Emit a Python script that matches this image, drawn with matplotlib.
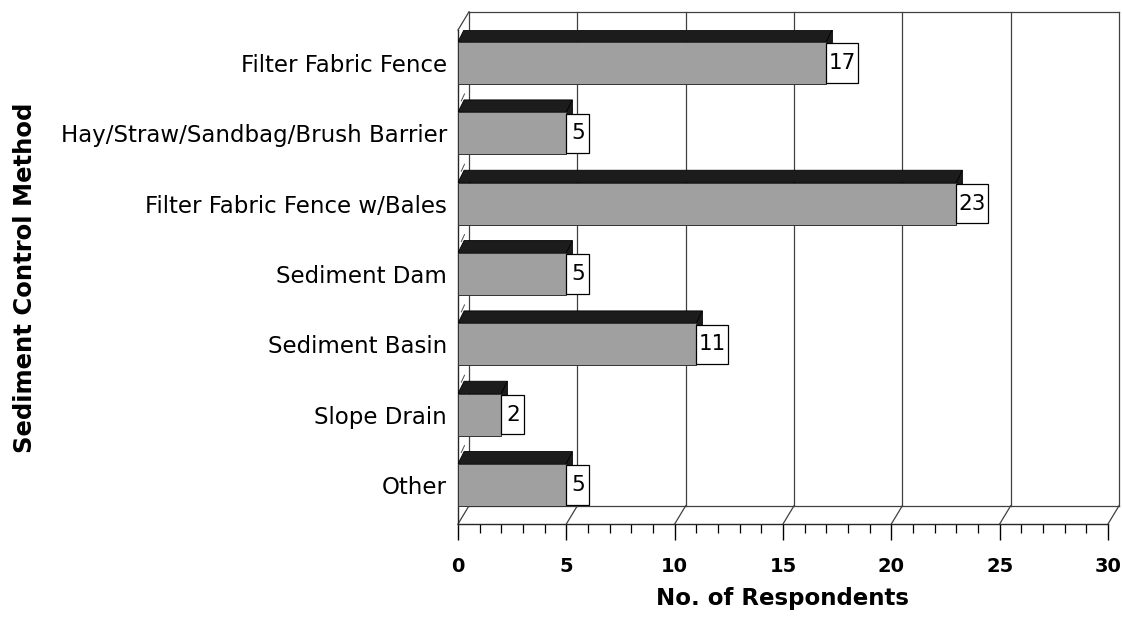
# 3-D style horizontal bar chart: sediment control methods by number of respondents
import numpy as np
import matplotlib as mpl; mpl.use('Agg')
import matplotlib.pyplot as plt
from matplotlib.patches import Polygon, Rectangle
from matplotlib.ticker import MultipleLocator

methods = ['Filter Fabric Fence', 'Hay/Straw/Sandbag/Brush Barrier', 'Filter Fabric Fence w/Bales',
           'Sediment Dam', 'Sediment Basin', 'Slope Drain', 'Other']
respondents = [17, 5, 23, 5, 11, 2, 5]
x_ticks = [0, 5, 10, 15, 20, 25, 30]

mpl.rcParams.update({'font.family': 'DejaVu Sans'})
FRONT = '#a0a0a0'; TOP = '#1c1c1c'

fig = plt.figure(figsize=(11.22, 6.19), dpi=100)
ax = fig.add_axes([458 / 1122, 95 / 619, 650 / 1122, 494 / 619])
YLO, YHI = 6.555, -0.469
ax.set_xlim(0, 30); ax.set_ylim(YLO, YHI)
ax.patch.set_visible(False)

# depth offsets (data units): walls and bars
WDX, WDY = 0.51, -0.26
BDX, BDY = 0.28, -0.175
BH = 0.6

# back wall: gridlines, top and bottom edges
for x in x_ticks:
    ax.plot([x + WDX, x + WDX], [YLO + WDY, YHI + WDY], color='0.25', lw=0.9, zorder=1, clip_on=False)
    ax.plot([x, x + WDX], [YLO, YLO + WDY], color='0.25', lw=0.9, zorder=1, clip_on=False)
ax.plot([WDX, 30 + WDX], [YHI + WDY, YHI + WDY], color='0.25', lw=0.9, zorder=1, clip_on=False)
ax.plot([WDX, 30 + WDX], [YLO + WDY, YLO + WDY], color='0.25', lw=0.9, zorder=1, clip_on=False)
ax.plot([0, WDX], [YHI, YHI + WDY], color='0.25', lw=0.9, zorder=1, clip_on=False)

# small category marks on the left wall
pos = np.arange(len(methods))
for b in pos[:-1] + 0.5:
    ax.plot([0.15, 0.3], [b + 0.04, b - 0.06], color='0.3', lw=0.7, zorder=1, clip_on=False)

# bars: front face, top face, side face, value box
for i, v in zip(pos, respondents):
    top = i - BH / 2
    ax.add_patch(Polygon([(0, top), (v, top), (v + BDX, top + BDY), (BDX, top + BDY)],
                         closed=True, fc=TOP, ec='k', lw=0.6, zorder=3))
    ax.add_patch(Polygon([(v, top), (v + BDX, top + BDY), (v + BDX, top + BH + BDY), (v, top + BH)],
                         closed=True, fc=TOP, ec='k', lw=0.6, zorder=3))
    ax.barh(i, v, height=BH, color=FRONT, edgecolor='0.2', lw=0.7, zorder=4)
    w = (14 + 9 * len(str(v))) / 21.67
    ax.add_patch(Rectangle((v, top + 0.02), w, BH - 0.04, fc='white', ec='k', lw=0.9, zorder=5))
    ax.text(v + w / 2, i, str(v), ha='center', va='center', fontsize=15.5, zorder=6)

# front axes: floor edge with ticks, left edge
for s in ['top', 'right']: ax.spines[s].set_visible(False)
for s in ['bottom', 'left']: ax.spines[s].set_linewidth(1.0); ax.spines[s].set_color('0.15')
ax.set_xticks(x_ticks)
ax.xaxis.set_minor_locator(MultipleLocator(1))
ax.tick_params(axis='x', which='major', length=11.5, width=1, pad=12, labelsize=14)
ax.tick_params(axis='x', which='minor', length=6.5, width=0.9)
for lab in ax.get_xticklabels(): lab.set_fontweight('bold')
ax.set_yticks(pos, methods)
ax.tick_params(axis='y', length=0, pad=8, labelsize=16.5)

fig.text(783 / 1122, 1 - 599 / 619, 'No. of Respondents', ha='center', va='center',
         fontsize=16.5, fontweight='bold')
fig.text(25 / 1122, 1 - 278 / 619, 'Sediment Control Method', ha='center', va='center',
         rotation=90, fontsize=17.5, fontweight='bold')

fig.savefig('out.png', dpi=100)
